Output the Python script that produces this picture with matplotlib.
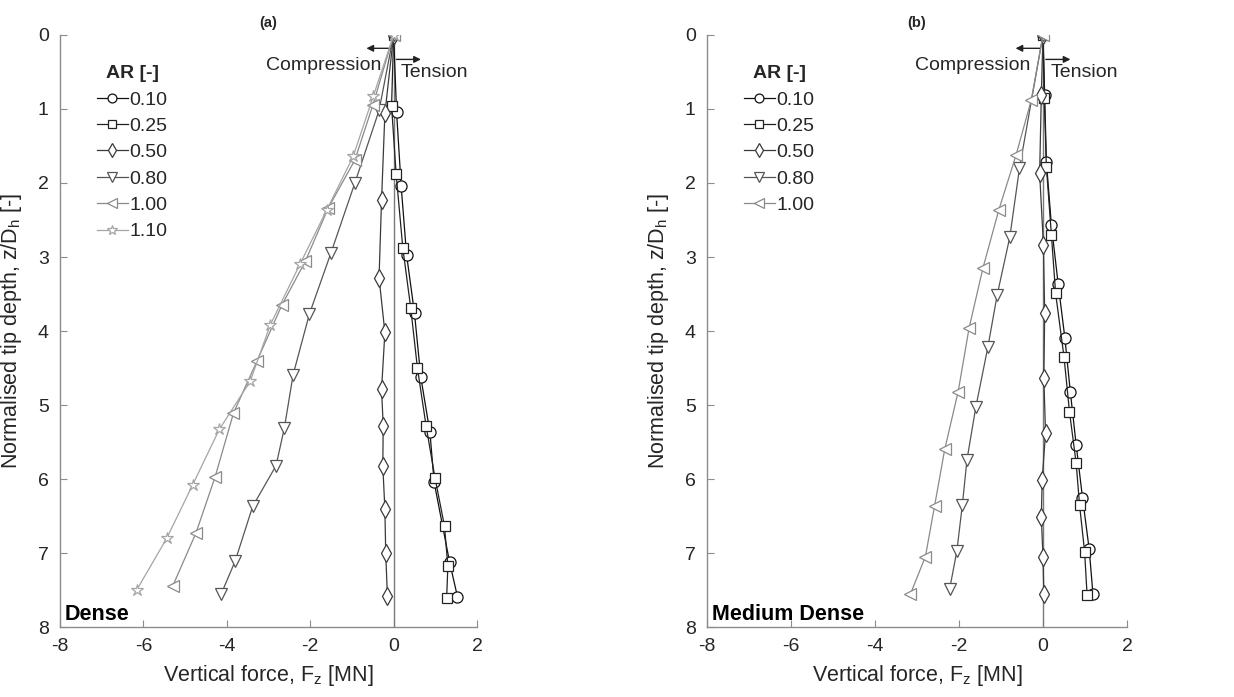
import matplotlib

matplotlib.use("Agg")

import matplotlib.pyplot as plt  # noqa: E402

plt.rcParams["font.family"] = ["Liberation Sans", "DejaVu Sans"]
plt.rcParams["axes.unicode_minus"] = False

# panel (a): dense sand, values read at marker positions
dense_ar = ["0.10", "0.25", "0.50", "0.80", "1.00", "1.10"]
dense_f = [
    [0.0, 0.07, 0.18, 0.31, 0.50, 0.65, 0.87, 0.97, 1.34, 1.53],
    [0.0, -0.05, 0.06, 0.22, 0.41, 0.57, 0.78, 0.99, 1.22, 1.30, 1.27],
    [0.0, -0.21, -0.29, -0.35, -0.21, -0.29, -0.25, -0.26, -0.21, -0.19, -0.15],
    [0.0, -0.35, -0.93, -1.50, -2.02, -2.41, -2.62, -2.82, -3.38, -3.80, -4.14],
    [0.0, -0.50, -0.93, -1.57, -2.12, -2.68, -3.28, -3.84, -4.28, -4.74, -5.30],
    [0.0, -0.49, -0.97, -1.60, -2.24, -2.96, -3.44, -4.18, -4.82, -5.44, -6.16],
]
dense_z = [
    [0.0, 1.04, 2.04, 2.97, 3.76, 4.62, 5.37, 6.04, 7.12, 7.59],
    [0.0, 0.96, 1.88, 2.88, 3.69, 4.50, 5.29, 5.98, 6.64, 7.18, 7.61],
    [0.0, 1.06, 2.23, 3.28, 4.02, 4.79, 5.28, 5.82, 6.41, 7.00, 7.58],
    [0.0, 1.02, 2.00, 2.94, 3.77, 4.59, 5.31, 5.82, 6.37, 7.11, 7.56],
    [0.0, 0.95, 1.69, 2.34, 3.06, 3.65, 4.41, 5.11, 5.97, 6.73, 7.45],
    [0.0, 0.83, 1.64, 2.36, 3.09, 3.92, 4.68, 5.33, 6.08, 6.80, 7.50],
]

# panel (b): medium dense sand
medium_ar = ["0.10", "0.25", "0.50", "0.80", "1.00"]
medium_f = [
    [0.0, 0.04, 0.08, 0.20, 0.36, 0.52, 0.65, 0.79, 0.94, 1.10, 1.19],
    [0.0, 0.03, 0.08, 0.20, 0.30, 0.50, 0.63, 0.79, 0.87, 0.99, 1.05],
    [0.0, -0.04, -0.08, 0.01, 0.04, 0.02, 0.06, -0.02, -0.04, 0.00, 0.02],
    [0.0, -0.56, -0.79, -1.09, -1.31, -1.60, -1.81, -1.92, -2.05, -2.22],
    [0.0, -0.28, -0.64, -1.05, -1.43, -1.76, -2.02, -2.34, -2.58, -2.80, -3.16],
]
medium_z = [
    [0.0, 0.81, 1.71, 2.57, 3.36, 4.09, 4.82, 5.54, 6.25, 6.95, 7.56],
    [0.0, 0.85, 1.78, 2.70, 3.49, 4.35, 5.09, 5.79, 6.35, 6.98, 7.57],
    [0.0, 0.81, 1.87, 2.84, 3.76, 4.63, 5.38, 6.01, 6.52, 7.05, 7.56],
    [0.0, 1.80, 2.73, 3.51, 4.21, 5.03, 5.74, 6.35, 6.97, 7.48],
    [0.0, 0.88, 1.62, 2.36, 3.15, 3.96, 4.82, 5.60, 6.36, 7.05, 7.56],
]

markers = ["o", "s", "d", "v", "<", "*"]
msizes = [8, 7, 9, 9, 9, 9]
colors = ["#111111", "#222222", "#3a3a3a", "#555555", "#8a8a8a", "#a5a5a5"]
text_c = "#262626"
axis_c = "#8c8c8c"

fig = plt.figure(figsize=(12.34, 6.97), dpi=100)
ax_a = fig.add_axes([0.0486, 0.1004, 0.338, 0.8494])
ax_b = fig.add_axes([0.5729, 0.1004, 0.3404, 0.8494])


def draw_panel(ax, ar_list, f_list, z_list, tag, soil):
    for i, ar in enumerate(ar_list):
        ax.plot(
            f_list[i], z_list[i],
            color=colors[i], lw=0.9,
            marker=markers[i], ms=msizes[i], mfc="white",
            mec=colors[i], mew=0.9, label=ar, zorder=3 + i * 0.1,
        )
    ax.axvline(0, color="#7a7a7a", lw=1.0, zorder=2)
    ax.set_xlim(-8, 2)
    ax.set_ylim(8, 0)
    ax.set_xticks([-8, -6, -4, -2, 0, 2])
    ax.set_yticks(range(0, 9))
    for s in ["top", "right"]:
        ax.spines[s].set_visible(False)
    for s in ["left", "bottom"]:
        ax.spines[s].set_color(axis_c)
        ax.spines[s].set_linewidth(1.0)
    ax.tick_params(direction="in", length=5, color=axis_c, labelsize=14,
                   labelcolor=text_c, pad=8)
    ax.set_xlabel("Vertical force, F$_\\mathregular{z}$ [MN]", fontsize=15.5,
                  color=text_c, labelpad=6)
    ax.set_ylabel("Normalised tip depth, z/D$_\\mathregular{h}$ [-]", fontsize=15.5,
                  color=text_c, labelpad=10)
    leg = ax.legend(loc="upper left", bbox_to_anchor=(0.055, 0.972), frameon=False,
                    fontsize=14, title="AR [-]", handlelength=1.6,
                    handletextpad=0.1, labelspacing=0.45, markerscale=0.8,
                    borderpad=0.2)
    leg.get_title().set_fontweight("bold")
    leg.get_title().set_fontsize(14)
    leg.get_title().set_color(text_c)
    for t in leg.get_texts():
        t.set_color(text_c)
    ax.annotate("", xy=(-0.72, 0.18), xytext=(0, 0.18),
                arrowprops=dict(arrowstyle="-|>", color="#222222", lw=1.0,
                                mutation_scale=10))
    ax.annotate("", xy=(0.72, 0.33), xytext=(0, 0.33),
                arrowprops=dict(arrowstyle="-|>", color="#222222", lw=1.0,
                                mutation_scale=10))
    ax.text(-0.3, 0.41, "Compression", ha="right", va="center", fontsize=14,
            color=text_c)
    ax.text(0.17, 0.51, "Tension", ha="left", va="center", fontsize=14,
            color=text_c)
    ax.text(-3.0, -0.16, tag, ha="center", va="center", fontsize=10.5,
            fontweight="bold", color=text_c, clip_on=False)
    ax.text(-7.88, 7.9, soil, ha="left", va="baseline", fontsize=15.5,
            fontweight="bold", color="black")


draw_panel(ax_a, dense_ar, dense_f, dense_z, "(a)", "Dense")
draw_panel(ax_b, medium_ar, medium_f, medium_z, "(b)", "Medium Dense")

fig.savefig("out.png", dpi=100)
